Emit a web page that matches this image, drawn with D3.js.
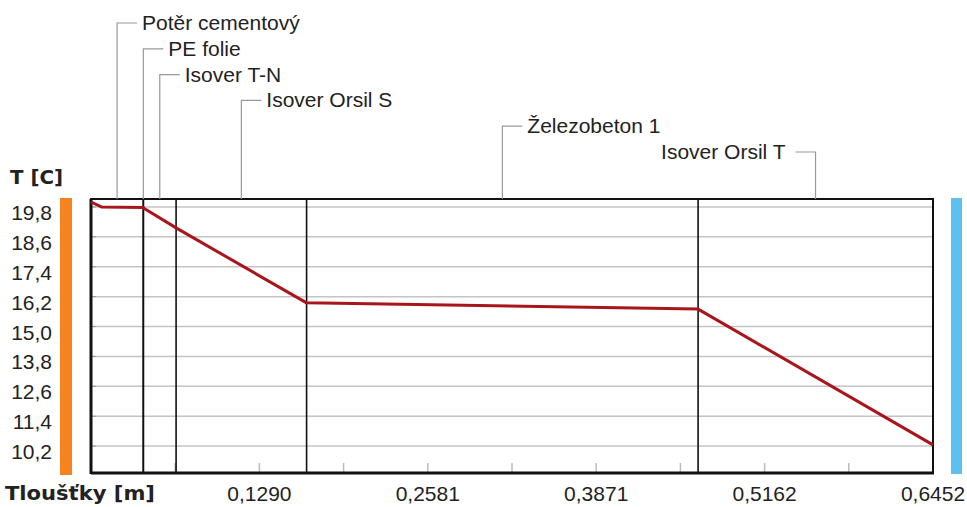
<!DOCTYPE html>
<html>
<head>
<meta charset="utf-8">
<script src="https://cdn.jsdelivr.net/npm/d3@7"></script>
<style>
  body { margin: 0; background: #fff; }
  svg { display: block; }
  text { font-family: "Liberation Sans", Arial, sans-serif; fill: #222; }
</style>
</head>
<body>
<svg class="chart"></svg>
<script>
// layers of the construction (thickness in m)
var layerNames = ["Potěr cementový", "PE folie", "Isover T-N", "Isover Orsil S", "Železobeton 1", "Isover Orsil T"];
var layerThick = [0.04, 0.0002, 0.025, 0.1, 0.3, 0.18];

// temperature profile
var profileX = [0, 0.008, 0.04, 0.0402, 0.0652, 0.1652, 0.4652, 0.6452];
var profileT = [20.0, 19.8, 19.78, 19.76, 18.96, 15.95, 15.70, 10.25];

var yTicks = [10.2, 11.4, 12.6, 13.8, 15.0, 16.2, 17.4, 18.6, 19.8];
var xTicks = [0.06452, 0.12904, 0.19356, 0.25808, 0.3226, 0.38712, 0.45164, 0.51616, 0.58068, 0.6452];

var margin = {top: 199, right: 34, bottom: 34, left: 91};
var W = 967, H = 507;
var chartWidth = W - margin.left - margin.right;
var chartHeight = H - margin.top - margin.bottom;

var svg = d3.select(".chart").attr("width", W).attr("height", H);
var chart = svg.append("g").attr("transform", "translate(" + margin.left + "," + margin.top + ")");

var x = d3.scaleLinear().domain([0, 0.6452]).range([0, chartWidth]);
var y = d3.scaleLinear().domain([9.12, 20.12]).range([chartHeight, 0]);

var comma = function(s) { return s.replace(".", ","); };

// side bars (inner / outer environment)
svg.append("rect").attr("x", 60).attr("y", 198).attr("width", 12).attr("height", 277).attr("fill", "#f5841f");
svg.append("rect").attr("x", 951).attr("y", 198).attr("width", 11).attr("height", 276).attr("fill", "#5cc1ec");

// horizontal grid
chart.selectAll(".grid").data(yTicks).enter().append("line")
  .attr("x1", 0).attr("x2", chartWidth)
  .attr("y1", function(d) { return y(d); }).attr("y2", function(d) { return y(d); })
  .attr("stroke", "#c4c4c4").attr("stroke-width", 1.5);

// small x tick marks
chart.selectAll(".xt").data(xTicks).enter().append("line")
  .attr("x1", function(d) { return x(d); }).attr("x2", function(d) { return x(d); })
  .attr("y1", chartHeight - 10).attr("y2", chartHeight)
  .attr("stroke", "#bbb").attr("stroke-width", 1.5);

// small y tick marks
chart.selectAll(".yt").data(yTicks).enter().append("line")
  .attr("x1", 0).attr("x2", 5)
  .attr("y1", function(d) { return y(d); }).attr("y2", function(d) { return y(d); })
  .attr("stroke", "#999").attr("stroke-width", 1);

// layer boundaries
var bounds = [0];
layerThick.forEach(function(t, i) { bounds.push(bounds[i] + t); });

chart.selectAll(".bound").data(bounds.slice(1, -1)).enter().append("line")
  .attr("x1", function(d) { return x(d); }).attr("x2", function(d) { return x(d); })
  .attr("y1", 0).attr("y2", chartHeight)
  .attr("stroke", "#111").attr("stroke-width", 1.6);

// frame
chart.append("rect").attr("width", chartWidth).attr("height", chartHeight)
  .attr("fill", "none").attr("stroke", "#111").attr("stroke-width", 2);
chart.append("line").attr("x1", 0).attr("x2", 0).attr("y1", 0).attr("y2", chartHeight + 1)
  .attr("stroke", "#111").attr("stroke-width", 3);
chart.append("line").attr("x1", 0).attr("x2", chartWidth + 1).attr("y1", chartHeight).attr("y2", chartHeight)
  .attr("stroke", "#111").attr("stroke-width", 3);

// temperature line
var line = d3.line().x(function(d) { return x(d[0]); }).y(function(d) { return y(d[1]); });
chart.append("path").datum(d3.zip(profileX, profileT))
  .attr("d", line).attr("fill", "none")
  .attr("stroke", "#a8161b").attr("stroke-width", 3).attr("stroke-linejoin", "round");

// y tick labels
svg.selectAll(".ylab").data(yTicks).enter().append("text")
  .attr("x", 52).attr("y", function(d) { return margin.top + y(d) + 13; })
  .attr("text-anchor", "end").style("font-size", "21px")
  .text(function(d) { return comma(d.toFixed(1)); });

// x tick labels (every second tick)
svg.selectAll(".xlab").data(xTicks.filter(function(d, i) { return i % 2 == 1; })).enter().append("text")
  .attr("x", function(d) { return margin.left + x(d); }).attr("y", 501)
  .attr("text-anchor", "middle").style("font-size", "21px")
  .text(function(d) { return comma(d.toFixed(4)); });

// axis titles
svg.append("text").attr("x", 10).attr("y", 184)
  .style("font-family", "'DejaVu Sans', sans-serif").style("font-weight", "bold").style("font-size", "19px")
  .attr("textLength", 53).attr("lengthAdjust", "spacingAndGlyphs")
  .text("T [C]");
svg.append("text").attr("x", 5).attr("y", 500)
  .style("font-family", "'DejaVu Sans', sans-serif").style("font-weight", "bold").style("font-size", "19px")
  .attr("textLength", 150).attr("lengthAdjust", "spacingAndGlyphs")
  .text("Tloušťky [m]");

// layer labels with connectors
var labels = layerNames.map(function(name, i) {
  return {name: name, cx: margin.left + x(bounds[i] + layerThick[i] / 2), row: 23 + i * 25.8, left: i == layerNames.length - 1};
});

labels.forEach(function(d) {
  var g = svg.append("g");
  var hx = d.left ? d.cx - 20 : d.cx + 20;
  g.append("polyline")
    .attr("points", [[hx, d.row], [d.cx, d.row], [d.cx, margin.top]].map(function(p) { return p.join(","); }).join(" "))
    .attr("fill", "none").attr("stroke", "#999").attr("stroke-width", 1.2);
  g.append("text")
    .attr("x", d.left ? d.cx - 30 : d.cx + 25).attr("y", d.row + 7)
    .attr("text-anchor", d.left ? "end" : "start")
    .style("font-size", "21px")
    .text(d.name);
});
</script>
</body>
</html>
